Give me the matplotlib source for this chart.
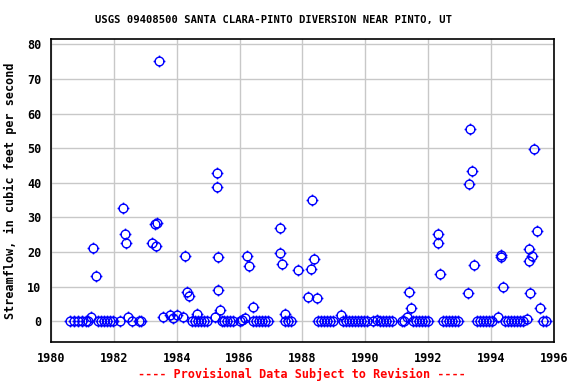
import numpy as np
import matplotlib
matplotlib.use('Agg')
import matplotlib.pyplot as plt
from matplotlib.path import Path

# Station info
title = "USGS 09408500 SANTA CLARA-PINTO DIVERSION NEAR PINTO, UT"
ylabel = "Streamflow, in cubic feet per second"
footer = "---- Provisional Data Subject to Revision ----"

zero_years = [1980.60, 1980.73, 1980.86, 1980.99, 1981.11, 1981.18,
              1981.49, 1981.59, 1981.69, 1981.78, 1981.88, 1981.97,
              1982.19, 1982.58, 1982.80, 1982.86,
              1984.48, 1984.58, 1984.68, 1984.77, 1984.87, 1984.96,
              1985.44, 1985.50, 1985.60, 1985.69, 1985.79,
              1986.42, 1986.52, 1986.62, 1986.71, 1986.81, 1986.90,
              1987.44, 1987.54, 1987.63,
              1988.49, 1988.59, 1988.68, 1988.78, 1988.87, 1988.97,
              1989.29, 1989.38, 1989.48, 1989.57, 1989.67, 1989.76,
              1989.86, 1989.96, 1990.05,
              1990.46, 1990.56, 1990.66, 1990.75, 1990.85,
              1991.16, 1991.23,
              1991.51, 1991.61, 1991.70, 1991.80, 1991.90, 1991.99,
              1992.47, 1992.56, 1992.66, 1992.75, 1992.85, 1992.95,
              1993.55, 1993.64, 1993.74, 1993.84, 1993.93, 1994.03,
              1994.44, 1994.54, 1994.63, 1994.73, 1994.82, 1994.92, 1995.01,
              1995.65, 1995.74]

flow_years = [1981.27, 1981.34, 1981.44,
              1982.30, 1982.36, 1982.40, 1982.46,
              1983.22, 1983.32, 1983.37, 1983.35, 1983.45, 1983.57,
              1983.78, 1983.89, 1984.02, 1984.20, 1984.26, 1984.33,
              1984.40, 1984.64,
              1985.22, 1985.28, 1985.28, 1985.32, 1985.30, 1985.37,
              1986.01, 1986.09, 1986.18, 1986.24, 1986.31, 1986.42,
              1987.28, 1987.28, 1987.36, 1987.45, 1987.86,
              1988.17, 1988.31, 1988.28, 1988.37, 1988.46,
              1989.23, 1990.24, 1990.37,
              1991.33, 1991.40, 1991.46,
              1992.32, 1992.32, 1992.38,
              1993.27, 1993.33, 1993.40, 1993.30, 1993.46,
              1994.23, 1994.32, 1994.32, 1994.39,
              1995.15, 1995.21, 1995.31, 1995.21, 1995.24, 1995.36,
              1995.47, 1995.56]
flow_values = [1.4, 21.3, 13.2,
               32.8, 25.1, 22.7, 1.4,
               22.6, 28.0, 28.5, 21.9, 75.3, 1.2,
               1.7, 1.1, 1.7, 1.4, 19.0, 8.6,
               7.2, 2.0,
               1.4, 42.9, 38.7, 18.7, 9.2, 3.2,
               0.1, 0.5, 0.9, 19.0, 16.1, 4.2,
               27.1, 19.8, 16.7, 2.2, 14.9,
               7.1, 35.1, 15.2, 18.1, 6.8,
               1.7, 0.1, 0.5,
               1.2, 8.6, 4.0,
               25.1, 22.7, 13.8,
               8.3, 55.7, 43.5, 39.8, 16.4,
               1.2, 19.3, 18.7, 10.0,
               0.7, 21.0, 19.0, 17.5, 8.3, 49.9,
               26.2, 4.0]

x_ticks = [1980, 1982, 1984, 1986, 1988, 1990, 1992, 1994, 1996]
y_ticks = [0, 10, 20, 30, 40, 50, 60, 70, 80]

# Circle with four small stubs, like the USGS plot symbol
t = np.linspace(0, 2 * np.pi, 40)
verts = list(zip(np.cos(t), np.sin(t)))
codes = [Path.MOVETO] + [Path.LINETO] * (len(t) - 1)
for dx, dy in [(1, 0), (-1, 0), (0, 1), (0, -1)]:
    verts += [(dx, dy), (dx * 1.35, dy * 1.35)]
    codes += [Path.MOVETO, Path.LINETO]
usgs_marker = Path(verts, codes)

plt.rcParams['font.family'] = 'DejaVu Sans Mono'
plt.rcParams['font.weight'] = 'bold'

fig = plt.figure(figsize=(5.76, 3.84), dpi=100)
ax = fig.add_axes([0.0885, 0.109, 0.873, 0.789])

all_x = zero_years + flow_years
all_y = [0.0] * len(zero_years) + flow_values
ax.plot(all_x, all_y, linestyle='none', marker=usgs_marker, markersize=8.5,
        markerfacecolor='none', markeredgecolor='blue', markeredgewidth=1.0, zorder=3)

ax.set_xlim(1980, 1996)
ax.set_ylim(-6, 81.5)
ax.set_xticks(x_ticks)
ax.set_yticks(y_ticks)
ax.tick_params(length=0, labelsize=8.5, pad=7)
for lab in ax.get_xticklabels() + ax.get_yticklabels():
    lab.set_fontweight('bold')
ax.grid(True, color='#c8c8c8', linewidth=1)
ax.set_axisbelow(True)
for s in ax.spines.values():
    s.set_linewidth(1.2)

ax.set_ylabel(ylabel, fontsize=8.5, fontweight='bold', labelpad=7)
fig.text(0.475, 0.948, title, ha='center', va='center', fontsize=7.6, fontweight='bold')
fig.text(0.524, 0.024, footer, ha='center', va='center', fontsize=8.5,
         fontweight='bold', color='red')

fig.savefig('out.png', dpi=100)
